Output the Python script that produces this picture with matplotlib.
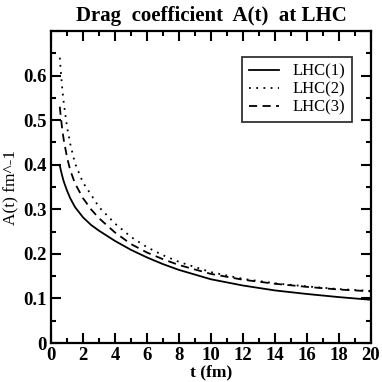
import matplotlib
matplotlib.use("Agg")
import matplotlib.pyplot as plt
from matplotlib.ticker import MultipleLocator

# values
t_vals = [0.55, 0.6, 0.7, 0.8, 1.0, 1.2, 1.5, 2.0, 2.5, 3.0, 4.0, 5.0, 6.0,
          7.0, 8.0, 10.0, 12.0, 14.0, 16.0, 18.0, 20.0]
lhc1 = [0.398, 0.390, 0.375, 0.362, 0.342, 0.325, 0.305, 0.282, 0.265, 0.252,
        0.229, 0.209, 0.192, 0.177, 0.164, 0.143, 0.129, 0.118, 0.110, 0.103, 0.097]
lhc2 = [0.640, 0.615, 0.572, 0.538, 0.485, 0.447, 0.403, 0.360, 0.333, 0.305,
        0.268, 0.238, 0.215, 0.197, 0.182, 0.159, 0.144, 0.134, 0.127, 0.121, 0.117]
lhc3 = [0.530, 0.512, 0.480, 0.455, 0.417, 0.388, 0.358, 0.325, 0.300, 0.280,
        0.248, 0.222, 0.203, 0.188, 0.175, 0.155, 0.142, 0.133, 0.126, 0.120, 0.116]
labels = ["LHC(1)", "LHC(2)", "LHC(3)"]

plt.rcParams["font.family"] = ["Liberation Serif", "DejaVu Serif"]

fig = plt.figure(figsize=(3.82, 3.82), dpi=100)
ax = fig.add_axes([0.1335, 0.102, 0.8375, 0.817])

ax.plot(t_vals, lhc1, color="black", lw=1.3, ls="-", label=labels[0])
ax.plot(t_vals, lhc2, color="black", lw=1.3, ls=(0, (1, 3)), label=labels[1])
ax.plot(t_vals, lhc3, color="black", lw=1.3, ls=(0, (4.5, 3)), label=labels[2])

ax.set_xlim(0, 20)
ax.set_ylim(0, 0.7)
ax.xaxis.set_major_locator(MultipleLocator(2))
ax.xaxis.set_minor_locator(MultipleLocator(1))
ax.set_yticks([0, 0.1, 0.2, 0.3, 0.4, 0.5, 0.6, 0.7])
ax.set_yticklabels(["0", "0.1", "0.2", "0.3", "0.4", "0.5", "0.6", ""])
ax.yaxis.set_minor_locator(MultipleLocator(0.05))

ax.tick_params(which="both", direction="in", top=True, right=True, width=1.5,
               labelsize=13.5, pad=3)
ax.tick_params(which="major", length=7.5)
ax.tick_params(which="minor", length=3.8)
for lab in ax.get_xticklabels() + ax.get_yticklabels():
    lab.set_fontweight("bold")
for s in ax.spines.values():
    s.set_linewidth(1.6)

ax.set_xlabel("t (fm)", fontsize=12.5, fontweight="bold", labelpad=0)
ax.set_ylabel("A(t) fm^-1", fontsize=12.5, labelpad=3)
ax.set_title("Drag  coefficient  A(t)  at LHC", fontsize=15,
             fontweight="bold", pad=7)

leg = ax.legend(loc="upper right", bbox_to_anchor=(0.921, 0.851),
                bbox_transform=fig.transFigure, fontsize=12, frameon=True,
                fancybox=False, handlelength=1.8, borderpad=0.4,
                labelspacing=0.12, handletextpad=0.8, borderaxespad=0)
leg.get_frame().set_edgecolor("black")
leg.get_frame().set_linewidth(1.3)

fig.savefig("out.png", dpi=100)
plt.close(fig)
